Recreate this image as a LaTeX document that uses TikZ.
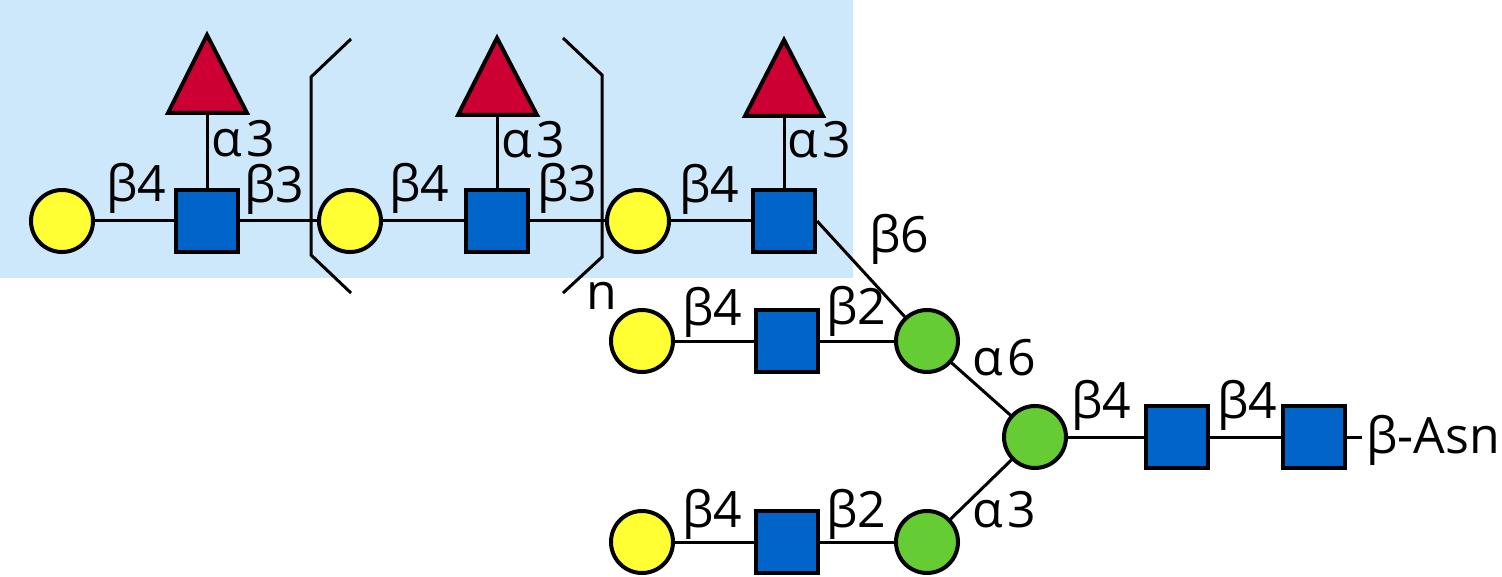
\documentclass[tikz,border=0pt]{standalone}
\usepackage{fontspec}
\setmainfont{Open Sans}
\definecolor{galY}{RGB}{255,255,51}
\definecolor{glcB}{RGB}{0,100,200}
\definecolor{fucR}{RGB}{204,0,51}
\definecolor{manG}{RGB}{102,204,51}
\definecolor{bgB}{RGB}{204,232,250}
\tikzset{
  link/.style={line width=3pt},
  gal/.style={circle,draw,line width=4pt,fill=galY,minimum size=62pt,inner sep=0pt},
  man/.style={circle,draw,line width=4pt,fill=manG,minimum size=62pt,inner sep=0pt},
  glc/.style={rectangle,draw,line width=4pt,fill=glcB,minimum size=62pt,inner sep=0pt},
  fuc/.style={draw,line width=4pt,fill=fucR,line join=miter},
  brk/.style={line width=3pt},
  lbl/.style={anchor=base west,inner sep=0pt,font=\fontsize{50}{55}\selectfont}
}
\begin{document}
\begin{tikzpicture}[x=1pt,y=-1pt]
\useasboundingbox (0,0) rectangle (1502,577);
\fill[bgB] (0,0) rectangle (853,278);
% triangles (fucose)
\filldraw[fuc] (207,35) -- (247,113) -- (168,113) -- cycle;
\coordinate (f1) at (207,113);
\filldraw[fuc] (497,38) -- (537,115) -- (458,115) -- cycle;
\coordinate (f2) at (497,115);
\filldraw[fuc] (784,40) -- (823,116) -- (745,116) -- cycle;
\coordinate (f3) at (784,116);
% nodes
\node[gal] (gal1) at (62,221) {};
\node[glc] (glc1) at (207,221) {};
\node[gal] (gal2) at (350,221) {};
\node[glc] (glc2) at (497,221) {};
\node[gal] (gal3) at (638,221) {};
\node[glc] (glc3) at (784,221) {};
\node[gal] (gal4) at (642,341) {};
\node[glc] (glc4) at (787,341) {};
\node[man] (man6) at (927,341) {};
\node[man] (manc) at (1035,437) {};
\node[glc] (glc5) at (1177,437) {};
\node[glc] (glc6) at (1314,437) {};
\node[gal] (gal5) at (642,542) {};
\node[glc] (glc7) at (787,542) {};
\node[man] (man3) at (927,542) {};
\coordinate (asn) at (1362,437);
% links
\draw[link] (f1) -- (glc1.north);
\draw[link] (f2) -- (glc2.north);
\draw[link] (f3) -- (glc3.north);
\draw[link] (gal1) -- (glc1);
\draw[link] (glc1) -- (gal2);
\draw[link] (gal2) -- (glc2);
\draw[link] (glc2) -- (gal3);
\draw[link] (gal3) -- (glc3);
\draw[link] (glc3.east) -- (man6);
\draw[link] (gal4) -- (glc4);
\draw[link] (glc4) -- (man6);
\draw[link] (man6) -- (manc);
\draw[link] (gal5) -- (glc7);
\draw[link] (glc7) -- (man3);
\draw[link] (man3) -- (manc);
\draw[link] (manc) -- (glc5);
\draw[link] (glc5) -- (glc6);
\draw[link] (glc6) -- (asn);
% brackets
\draw[brk] (351,39) -- (311,77) -- (311,255) -- (351,293);
\draw[brk] (563,38) -- (602,75) -- (602,257) -- (563,293);
% labels
\node[lbl] at (106,202) {β4};
\node[lbl] at (211,157) {α\kern5pt3};
\node[lbl] at (244,203) {β3};
\node[lbl] at (389,202) {β4};
\node[lbl] at (501,158) {α\kern5pt3};
\node[lbl] at (537,202) {β3};
\node[lbl] at (679,203) {β4};
\node[lbl] at (787,158) {α\kern5pt3};
\node[lbl] at (869,253) {β6};
\node[lbl] at (586,310) {n};
\node[lbl] at (682,326) {β4};
\node[lbl] at (826,325) {β2};
\node[lbl] at (972,375) {α\kern5pt6};
\node[lbl] at (972,527) {α\kern5pt3};
\node[lbl] at (682,527) {β4};
\node[lbl] at (826,527) {β2};
\node[lbl] at (1071,418) {β4};
\node[lbl] at (1217,418) {β4};
\node[lbl] at (1366,453) {β-Asn};
\end{tikzpicture}
\end{document}
